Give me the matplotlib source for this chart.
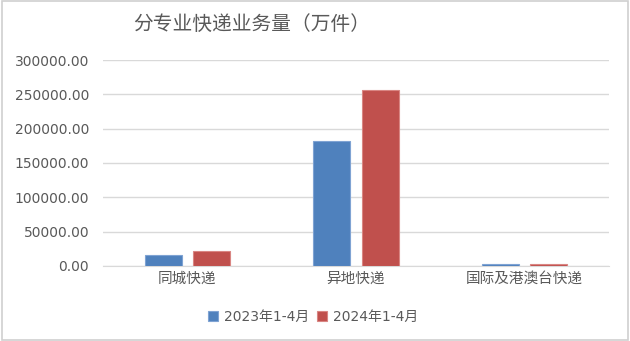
import numpy as np
import matplotlib.pyplot as plt
from matplotlib.patches import Rectangle

plt.rcParams['font.family'] = ['DejaVu Sans', 'Noto Sans CJK SC']

categories = ["同城快递", "异地快递", "国际及港澳台快递"]
series_names = ["2023年1-4月", "2024年1-4月"]
v2023 = [16000, 182000, 2500]
v2024 = [21400, 255900, 2900]
yticks = [0, 50000, 100000, 150000, 200000, 250000, 300000]

colors = ["#4F81BD", "#C0504D"]
edges = ["#7FA3D3", "#D98683"]
text_c = "#595959"

fig = plt.figure(figsize=(6.3, 3.41), dpi=100)
ax = fig.add_axes([0.1635, 0.22, 0.803, 0.604])

x = np.arange(len(categories))
w = 0.22
off = 0.143
for i, vals in enumerate([v2023, v2024]):
    ax.bar(x + (i * 2 - 1) * off, vals, width=w, color=colors[i],
           edgecolor=edges[i], linewidth=0.8, label=series_names[i], zorder=3)

ax.set_xlim(-0.5, len(categories) - 0.5)
ax.set_ylim(0, 300000)
ax.set_yticks(yticks)
ax.set_yticklabels([f"{t:.2f}" for t in yticks], fontsize=10, color=text_c)
ax.set_xticks(x)
ax.set_xticklabels(categories, fontsize=10.5, color=text_c,
                   family=['Noto Sans CJK SC'])
ax.tick_params(length=0, pad=4)
ax.tick_params(axis='y', pad=10)
ax.grid(axis='y', color="#d9d9d9", linewidth=1, zorder=0)
for s in ["top", "right", "left"]:
    ax.spines[s].set_visible(False)
ax.spines["bottom"].set_color("#d9d9d9")

fig.suptitle("分专业快递业务量（万件）", x=0.40, y=0.958, fontsize=14.2,
             color=text_c, family=['Noto Sans CJK SC'])

fig.legend(loc='center', bbox_to_anchor=(0.497, 0.07), ncol=2, frameon=False,
           fontsize=10, handlelength=0.7, handleheight=0.7, handletextpad=0.4,
           columnspacing=0.6, labelcolor=text_c)

fig.patches.append(Rectangle((0.003, 0.004), 0.994, 0.992, transform=fig.transFigure,
                             fill=False, edgecolor="#d0d0d0", linewidth=1.2))

fig.savefig("out.png", dpi=100)
